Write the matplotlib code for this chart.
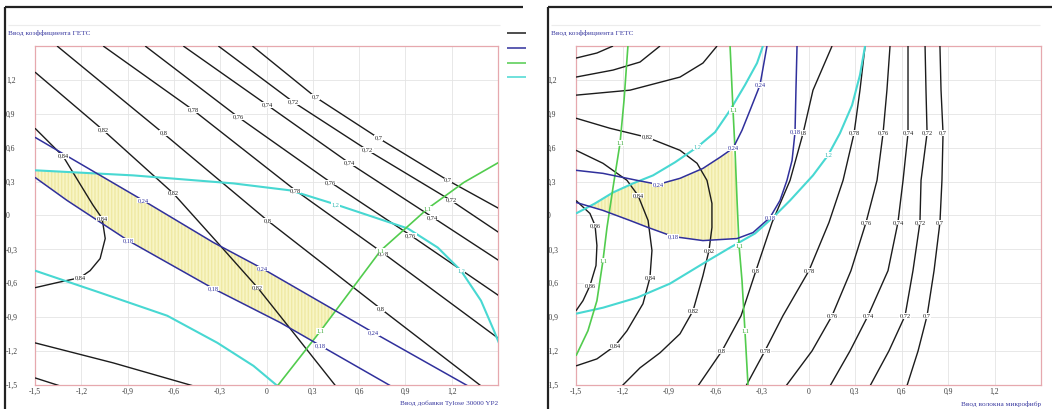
import matplotlib
matplotlib.use('Agg')
import matplotlib.pyplot as plt
from matplotlib.lines import Line2D
from matplotlib.patches import Polygon

plt.rcParams['font.family'] = ['Liberation Serif', 'DejaVu Serif']

# ---------------- texts ----------------
title_text = 'Ввод коэффициента ГЕТС'
xlabel_left = 'Ввод добавки Tylose 30000 YP2'
xlabel_right = 'Ввод волокна микрофибр'
tick_vals = [-1.5, -1.2, -0.9, -0.6, -0.3, 0.0, 0.3, 0.6, 0.9, 1.2]
tick_text = ['-1,5', '-1,2', '-0,9', '-0,6', '-0,3', '0', '0,3', '0,6', '0,9', '1,2']

# ---------------- left panel data ----------------
lk70_x = [-0.091, 0.318, 0.727, 1.175, 1.506]
lk70_y = [1.5, 1.047, 0.684, 0.311, 0.062]
lk72_x = [-0.312, 0.175, 0.656, 1.195, 1.506]
lk72_y = [1.5, 1.003, 0.577, 0.134, -0.151]
lk74_x = [-0.539, 0.006, 0.539, 1.078, 1.506]
lk74_y = [1.5, 0.976, 0.462, -0.017, -0.399]
lk76_x = [-0.786, -0.182, 0.416, 0.935, 1.506]
lk76_y = [1.5, 0.870, 0.293, -0.177, -0.710]
lk78_x = [-1.058, -0.474, 0.188, 0.760, 1.506]
lk78_y = [1.5, 0.932, 0.222, -0.337, -1.091]
lk80_x = [-1.357, -0.669, 0.006, 0.740, 1.390]
lk80_y = [1.5, 0.728, -0.044, -0.825, -1.508]
lk82_x = [-1.5, -1.058, -0.604, -0.318, -0.058, 0.175, 0.448]
lk82_y = [1.269, 0.755, 0.196, -0.239, -0.638, -1.038, -1.508]
lk84_x = [-1.5, -1.318, -1.143, -1.123, -1.065, -1.045, -1.078, -1.143, -1.208, -1.357, -1.5]
lk84_y = [0.772, 0.524, 0.133, 0.089, -0.026, -0.204, -0.381, -0.488, -0.550, -0.594, -0.639]
lk82b_x = [-1.5, -0.994, -0.474]
lk82b_y = [-1.127, -1.304, -1.508]
lk80b_x = [-1.5, -1.338]
lk80b_y = [-1.437, -1.508]

lb24_x = [-1.5, -0.799, -0.344, -0.026, 0.695, 1.305]
lb24_y = [0.692, 0.133, -0.239, -0.470, -1.038, -1.508]
lb18_x = [-1.5, -1.292, -0.896, -0.344, 0.091, 0.351, 0.805]
lb18_y = [0.337, 0.133, -0.222, -0.647, -0.949, -1.153, -1.508]

lg_x = [0.071, 0.351, 0.740, 1.045, 1.279, 1.506]
lg_y = [-1.508, -1.020, -0.310, 0.062, 0.293, 0.471]

lc1_x = [-1.5, -0.864, -0.214, 0.156, 0.448, 0.916, 1.110, 1.260, 1.390, 1.474, 1.519]
lc1_y = [0.400, 0.355, 0.284, 0.222, 0.098, -0.115, -0.284, -0.488, -0.754, -1.020, -1.171]
lc2_x = [-1.5, -1.078, -0.643, -0.318, -0.084, 0.071]
lc2_y = [-0.488, -0.683, -0.887, -1.127, -1.331, -1.508]

lyel_x = [-1.5, -1.273, -1.078, -0.799, -0.344, -0.026, 0.448, 0.292, 0.091, -0.344, -0.896, -1.292, -1.5]
lyel_y = [0.400, 0.382, 0.364, 0.133, -0.239, -0.470, -0.843, -1.109, -0.949, -0.647, -0.222, 0.133, 0.337]

# ---------------- right panel data ----------------
rows_y = [1.5, 1.109, 0.728, 0.311, -0.062, -0.488, -0.887, -1.198, -1.508]
rk70_x = [0.848, 0.855, 0.868, 0.861, 0.848, 0.810, 0.765, 0.707, 0.635]
rk72_x = [0.752, 0.758, 0.765, 0.726, 0.719, 0.674, 0.623, 0.519, 0.397]
rk74_x = [0.642, 0.642, 0.642, 0.610, 0.577, 0.513, 0.384, 0.268, 0.139]
rk76_x = [0.526, 0.506, 0.481, 0.442, 0.371, 0.274, 0.152, 0.023, -0.145]
rk78_x = [0.365, 0.332, 0.294, 0.223, 0.132, 0.003, -0.165, -0.281, -0.403]
rk80_x = [0.152, 0.029, -0.035, -0.119, -0.235, -0.339, -0.435, -0.558, -0.713]

rk82_x = [-1.5, -1.281, -1.042, -0.829, -0.719, -0.655, -0.623, -0.623, -0.642, -0.681, -0.745, -0.829, -0.958, -1.087, -1.203]
rk82_y = [0.861, 0.772, 0.692, 0.577, 0.462, 0.311, 0.107, -0.106, -0.310, -0.532, -0.843, -1.047, -1.215, -1.348, -1.508]
rk84_x = [-1.5, -1.326, -1.171, -1.100, -1.035, -1.010, -1.023, -1.068, -1.171, -1.248, -1.365, -1.5]
rk84_y = [0.577, 0.462, 0.311, 0.178, -0.044, -0.310, -0.550, -0.781, -1.020, -1.153, -1.269, -1.331]
rk86_x = [-1.5, -1.410, -1.377, -1.365, -1.371, -1.410, -1.455, -1.5]
rk86_y = [0.133, 0.018, -0.088, -0.266, -0.443, -0.621, -0.754, -0.843]
rka80_x = [-1.5, -1.152, -0.829, -0.681, -0.590]
rka80_y = [1.065, 1.109, 1.225, 1.349, 1.5]
rka78_x = [-1.5, -1.261, -1.087, -0.958]
rka78_y = [1.225, 1.287, 1.358, 1.5]
rka76_x = [-1.5, -1.365, -1.261]
rka76_y = [1.393, 1.438, 1.5]

rb24_x = [-1.5, -1.326, -1.106, -0.971, -0.829, -0.681, -0.571, -0.487, -0.429, -0.377, -0.313, -0.268]
rb24_y = [0.400, 0.373, 0.311, 0.275, 0.329, 0.417, 0.515, 0.595, 0.754, 0.932, 1.154, 1.5]
rb18_x = [-1.5, -1.326, -1.152, -1.035, -0.874, -0.681, -0.461, -0.358, -0.248, -0.184, -0.139, -0.106, -0.087, -0.081, -0.074]
rb18_y = [0.116, 0.045, -0.044, -0.106, -0.186, -0.222, -0.204, -0.151, -0.017, 0.133, 0.311, 0.488, 0.737, 1.109, 1.5]

rc1_x = [-1.5, -1.377, -1.261, -1.132, -1.003, -0.861, -0.719, -0.603, -0.506, -0.410, -0.332, -0.294]
rc1_y = [0.018, 0.107, 0.204, 0.284, 0.355, 0.471, 0.604, 0.737, 0.932, 1.154, 1.349, 1.5]
rc2_x = [-1.5, -1.326, -1.106, -0.894, -0.681, -0.506, -0.345, -0.216, -0.119, 0.029, 0.126, 0.203, 0.281, 0.332, 0.365]
rc2_y = [-0.869, -0.816, -0.727, -0.603, -0.426, -0.284, -0.159, 0.000, 0.133, 0.355, 0.533, 0.728, 0.976, 1.243, 1.5]

rg1_x = [-1.165, -1.190, -1.216, -1.261, -1.300, -1.326, -1.365, -1.423, -1.5]
rg1_y = [1.5, 1.021, 0.639, 0.249, -0.106, -0.399, -0.754, -1.020, -1.242]
rg2_x = [-0.506, -0.487, -0.474, -0.461, -0.448, -0.429, -0.410, -0.390]
rg2_y = [1.5, 0.932, 0.577, 0.133, -0.266, -0.576, -1.020, -1.508]

ryel_x = [-1.410, -1.261, -1.132, -1.087, -0.971, -0.829, -0.681, -0.571, -0.487, -0.468, -0.461, -0.461, -0.681, -0.874, -1.035, -1.152, -1.326]
ryel_y = [0.089, 0.204, 0.284, 0.302, 0.275, 0.329, 0.417, 0.515, 0.577, 0.355, 0.133, -0.204, -0.222, -0.186, -0.106, -0.044, 0.045]

# ---------------- styles ----------------
C_BLACK = '#1c1c1c'
C_BLUE = '#30309c'
C_GREEN = '#52cc4e'
C_CYAN = '#48d8d2'
C_TEXT = '#3a3a3a'
C_TITLE = '#3a3aa0'

W, H = 1052, 409
fig = plt.figure(figsize=(W / 100, H / 100), dpi=100)
fig.patch.set_facecolor('white')


def px_rect(x0, x1, y0, y1):
    return [x0 / W, 1 - y1 / H, (x1 - x0) / W, (y1 - y0) / H]


def draw(ax, xs, ys, color, lw, label=None, idx=(), tcolor=None, z=3):
    ax.plot(xs, ys, color=color, lw=lw, zorder=z, solid_capstyle='butt')
    for i in idx:
        ax.text(xs[i], ys[i], label, fontsize=4.6, ha='center', va='center',
                color=tcolor or color, zorder=z + 2, clip_on=True,
                bbox=dict(boxstyle='square,pad=0.05', fc='white', ec='none'))


def setup(ax, xlabel):
    ax.set_xlim(-1.5, 1.5)
    ax.set_ylim(-1.5, 1.5)
    ax.set_xticks(tick_vals)
    ax.set_xticklabels(tick_text)
    ax.set_yticks(tick_vals)
    ax.set_yticklabels(tick_text)
    ax.tick_params(axis='both', length=0, labelsize=5.5, colors=C_TEXT)
    ax.tick_params(axis='x', pad=2)
    ax.tick_params(axis='y', pad=21)
    for t in ax.get_yticklabels():
        t.set_horizontalalignment('left')
    ax.grid(True, color='#e4e4e4', lw=0.6, zorder=0)
    ax.set_axisbelow(True)
    for s in ax.spines.values():
        s.set_color('#e6a8ae')
        s.set_linewidth(0.9)
    ax.text(1.0, -0.055, xlabel, transform=ax.transAxes, ha='right', va='center',
            fontsize=5.2, color=C_TITLE)


def fmt(v):
    s = ('%.2f' % v).rstrip('0').rstrip('.')
    return s.replace('.', ',')


# ---------------- left panel ----------------
axL = fig.add_axes(px_rect(35, 498, 46, 385))
setup(axL, xlabel_left)
axL.add_patch(Polygon(list(zip(lyel_x, lyel_y)), closed=True, fc='#f8f5c4',
                      ec='#efe9a4', lw=0, hatch='|||||', zorder=1))

left_black = [
    (0.70, lk70_x, lk70_y, [1, 2, 3]),
    (0.72, lk72_x, lk72_y, [1, 2, 3]),
    (0.74, lk74_x, lk74_y, [1, 2, 3]),
    (0.76, lk76_x, lk76_y, [1, 2, 3]),
    (0.78, lk78_x, lk78_y, [1, 2, 3]),
    (0.80, lk80_x, lk80_y, [1, 2, 3]),
    (0.82, lk82_x, lk82_y, [1, 2, 4]),
    (0.84, lk84_x, lk84_y, [1, 4, 8]),
    (0.82, lk82b_x, lk82b_y, []),
    (0.80, lk80b_x, lk80b_y, []),
]
for lev, xs, ys, idx in left_black:
    draw(axL, xs, ys, C_BLACK, 1.0, fmt(lev), idx)
draw(axL, lc1_x, lc1_y, C_CYAN, 1.5, '1,2', [4, 7], tcolor='#30b8b2')
draw(axL, lc2_x, lc2_y, C_CYAN, 1.5)
draw(axL, lg_x, lg_y, C_GREEN, 1.2, '1,1', [1, 2, 3], tcolor='#3aa836')
draw(axL, lb24_x, lb24_y, C_BLUE, 1.1, '0,24', [1, 3, 4])
draw(axL, lb18_x, lb18_y, C_BLUE, 1.1, '0,18', [2, 3, 5])

# ---------------- right panel ----------------
axR = fig.add_axes(px_rect(576, 1041, 46, 385))
setup(axR, xlabel_right)
axR.add_patch(Polygon(list(zip(ryel_x, ryel_y)), closed=True, fc='#f8f5c4',
                      ec='#efe9a4', lw=0, hatch='|||||', zorder=1))

right_black = [
    (0.70, rk70_x, rows_y, [2, 4, 6]),
    (0.72, rk72_x, rows_y, [2, 4, 6]),
    (0.74, rk74_x, rows_y, [2, 4, 6]),
    (0.76, rk76_x, rows_y, [2, 4, 6]),
    (0.78, rk78_x, rows_y, [2, 5, 7]),
    (0.80, rk80_x, rows_y, [2, 5, 7]),
    (0.82, rk82_x, rk82_y, [2, 8, 10]),
    (0.84, rk84_x, rk84_y, [3, 6, 9]),
    (0.86, rk86_x, rk86_y, [2, 5]),
    (0.80, rka80_x, rka80_y, []),
    (0.78, rka78_x, rka78_y, []),
    (0.76, rka76_x, rka76_y, []),
]
for lev, xs, ys, idx in right_black:
    draw(axR, xs, ys, C_BLACK, 1.0, fmt(lev), idx)
draw(axR, rc1_x, rc1_y, C_CYAN, 1.5, '1,2', [6], tcolor='#30b8b2')
draw(axR, rc2_x, rc2_y, C_CYAN, 1.5, '1,2', [10], tcolor='#30b8b2')
draw(axR, rg1_x, rg1_y, C_GREEN, 1.2, '1,1', [2, 5], tcolor='#3aa836')
draw(axR, rg2_x, rg2_y, C_GREEN, 1.2, '1,1', [1, 4, 6], tcolor='#3aa836')
draw(axR, rb24_x, rb24_y, C_BLUE, 1.1, '0,24', [3, 7, 10])
draw(axR, rb18_x, rb18_y, C_BLUE, 1.1, '0,18', [4, 8, 12])

# ---------------- panel frames, titles, legend ----------------
def fline(x0, y0, x1, y1, color, lw):
    fig.add_artist(Line2D([x0 / W, x1 / W], [1 - y0 / H, 1 - y1 / H],
                          color=color, lw=lw, solid_capstyle='butt'))

fline(5, 7, 523, 7, '#222222', 1.6)
fline(5, 7, 5, 409, '#222222', 1.6)
fline(548, 7, 1052, 7, '#222222', 1.6)
fline(548, 7, 548, 409, '#222222', 1.6)
fline(8, 25, 500, 25, '#ececec', 0.8)
fline(551, 25, 1040, 25, '#ececec', 0.8)

fig.text(8 / W, 1 - 33 / H, title_text, fontsize=5.2, color=C_TITLE, va='center', ha='left')
fig.text(551 / W, 1 - 33 / H, title_text, fontsize=5.2, color=C_TITLE, va='center', ha='left')

for yy, col in zip([33, 48, 63, 77], [C_BLACK, C_BLUE, C_GREEN, C_CYAN]):
    fline(507, yy, 526, yy, col, 1.1)

fig.savefig('out.png', dpi=100, facecolor='white')
